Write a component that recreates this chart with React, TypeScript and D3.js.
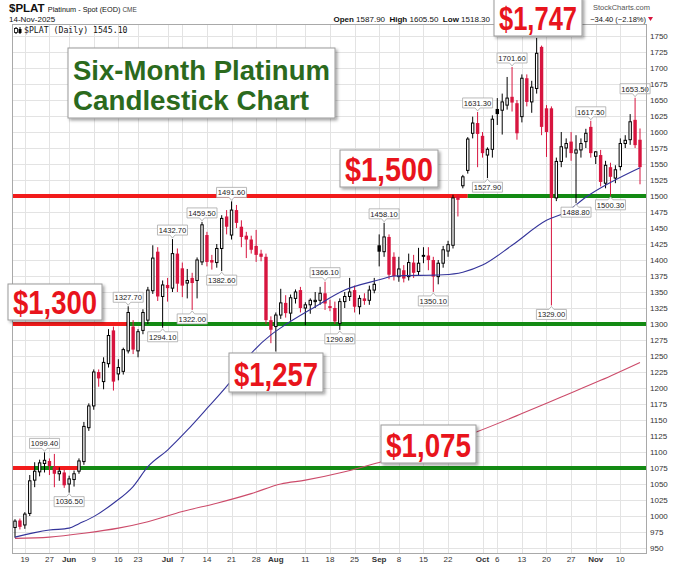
import * as d3 from "d3";
import { useEffect, useRef } from "react";

// trading days, 15-May-2025 .. 14-Nov-2025
const dates = [
  "2025-05-15", "2025-05-16", "2025-05-19", "2025-05-20", "2025-05-21", "2025-05-22", "2025-05-23", "2025-05-27", "2025-05-28", "2025-05-29", "2025-05-30",
  "2025-06-02", "2025-06-03", "2025-06-04", "2025-06-05", "2025-06-06", "2025-06-09", "2025-06-10", "2025-06-11", "2025-06-12", "2025-06-13",
  "2025-06-16", "2025-06-17", "2025-06-18", "2025-06-20", "2025-06-23", "2025-06-24", "2025-06-25", "2025-06-26", "2025-06-27", "2025-06-30",
  "2025-07-01", "2025-07-02", "2025-07-03", "2025-07-07", "2025-07-08", "2025-07-09", "2025-07-10", "2025-07-11", "2025-07-14", "2025-07-15",
  "2025-07-16", "2025-07-17", "2025-07-18", "2025-07-21", "2025-07-22", "2025-07-23", "2025-07-24", "2025-07-25", "2025-07-28", "2025-07-29",
  "2025-07-30", "2025-07-31", "2025-08-01", "2025-08-04", "2025-08-05", "2025-08-06", "2025-08-07", "2025-08-08", "2025-08-11", "2025-08-12",
  "2025-08-13", "2025-08-14", "2025-08-15", "2025-08-18", "2025-08-19", "2025-08-20", "2025-08-21", "2025-08-22", "2025-08-25", "2025-08-26",
  "2025-08-27", "2025-08-28", "2025-08-29", "2025-09-02", "2025-09-03", "2025-09-04", "2025-09-05", "2025-09-08", "2025-09-09", "2025-09-10",
  "2025-09-11", "2025-09-12", "2025-09-15", "2025-09-16", "2025-09-17", "2025-09-18", "2025-09-19", "2025-09-22", "2025-09-23", "2025-09-24",
  "2025-09-25", "2025-09-26", "2025-09-29", "2025-09-30", "2025-10-01", "2025-10-02", "2025-10-03", "2025-10-06", "2025-10-07", "2025-10-08",
  "2025-10-09", "2025-10-10", "2025-10-13", "2025-10-14", "2025-10-15", "2025-10-16", "2025-10-17", "2025-10-20", "2025-10-21", "2025-10-22",
  "2025-10-23", "2025-10-24", "2025-10-27", "2025-10-28", "2025-10-29", "2025-10-30", "2025-10-31", "2025-11-03", "2025-11-04", "2025-11-05",
  "2025-11-06", "2025-11-07", "2025-11-10", "2025-11-11", "2025-11-12", "2025-11-13", "2025-11-14",
];

const opens = [
  982, 993, 986, 1004, 1056, 1069, 1082, 1086, 1077, 1066,
  1068, 1050, 1057, 1070, 1085, 1138, 1172, 1225, 1210, 1238,
  1290, 1222, 1226, 1258, 1296, 1258, 1290, 1306, 1352, 1413,
  1343, 1361, 1356, 1410, 1387, 1364, 1372, 1368, 1397, 1439,
  1400, 1396, 1418, 1468, 1439, 1478, 1452, 1438, 1432, 1422,
  1410, 1405, 1306, 1296, 1314, 1333, 1317, 1340, 1353, 1325,
  1330, 1335, 1337, 1348, 1328, 1325, 1301, 1335, 1343, 1353,
  1327, 1340, 1337, 1353, 1423, 1413, 1436, 1405, 1374, 1384,
  1374, 1396, 1382, 1408, 1407, 1400, 1374, 1395, 1414, 1423,
  1499, 1516, 1540, 1598, 1614, 1594, 1564, 1573, 1636, 1634,
  1642, 1655, 1645, 1624, 1684, 1647, 1668, 1733, 1637, 1637,
  1497, 1554, 1575, 1585, 1567, 1572, 1585, 1608, 1562, 1564,
  1520, 1545, 1528, 1546, 1582, 1588, 1619, 1587.9,
];

const highs = [
  995, 996, 1006, 1064, 1084, 1088, 1099.4, 1090, 1097, 1076,
  1073, 1063, 1071, 1090, 1147, 1176, 1229, 1229, 1248, 1292,
  1296, 1245, 1263, 1327.7, 1306, 1292, 1323, 1358, 1423, 1420,
  1368, 1372, 1432.7, 1418, 1396, 1386, 1380, 1404, 1459.5, 1444,
  1408, 1425, 1470, 1478, 1491.6, 1486, 1462, 1444, 1438, 1447,
  1416, 1410, 1312, 1318, 1355, 1345, 1346, 1354, 1358, 1334,
  1340, 1350, 1358, 1366.1, 1338, 1335, 1340, 1350, 1372, 1360,
  1345, 1348, 1360, 1372, 1440, 1458.1, 1440, 1412, 1405, 1392,
  1410, 1408, 1419, 1420, 1420, 1405, 1400, 1422, 1430, 1502,
  1503, 1533, 1592, 1624, 1631.3, 1600, 1576, 1626, 1653, 1660,
  1686, 1701.6, 1650, 1690, 1690, 1680, 1747, 1735, 1642, 1640,
  1560, 1600, 1590, 1600, 1595, 1590, 1605, 1617.5, 1570, 1572,
  1555, 1552, 1548, 1590, 1595, 1628, 1653.5, 1605.5,
];

const lows = [
  966, 979, 980, 1000, 1045, 1062, 1068, 1064, 1045, 1055,
  1044, 1036.5, 1046, 1066, 1080, 1133, 1166, 1202, 1198, 1232,
  1196, 1212, 1221, 1254, 1253, 1248, 1284, 1300, 1347, 1336,
  1294.1, 1335, 1350, 1350, 1342, 1340, 1322, 1340, 1392, 1390,
  1385, 1388, 1382.6, 1440, 1432, 1450, 1420, 1403, 1410, 1397,
  1398, 1300, 1270, 1257, 1308, 1310, 1305, 1332, 1318, 1298,
  1316, 1325, 1330, 1322, 1320, 1300, 1290.8, 1325, 1336, 1318,
  1315, 1330, 1330, 1348, 1390, 1405, 1370, 1368, 1366, 1365,
  1368, 1372, 1376, 1395, 1384, 1350.1, 1362, 1388, 1405, 1418,
  1468, 1512, 1535, 1590, 1545, 1560, 1527.9, 1560, 1611, 1596,
  1635, 1632, 1588, 1615, 1640, 1630, 1660, 1595, 1561, 1329,
  1492, 1545, 1560, 1555, 1488.8, 1560, 1575, 1560, 1550, 1515,
  1512, 1500.3, 1520, 1540, 1575, 1580, 1575, 1518.3,
];

const closes = [
  992, 983, 1003, 1055, 1070, 1083, 1087, 1078, 1066, 1070,
  1048, 1058, 1066, 1086, 1140, 1172, 1225, 1215, 1240, 1282,
  1210, 1232, 1260, 1318, 1260, 1288, 1318, 1353, 1403, 1343,
  1361, 1356, 1410, 1363, 1360, 1368, 1364, 1400, 1455, 1397,
  1396, 1418, 1465, 1452, 1478, 1458, 1436, 1432, 1416, 1408,
  1405, 1306, 1291, 1314, 1333, 1317, 1341, 1350, 1325, 1330,
  1337, 1337, 1348, 1332, 1325, 1304, 1335, 1343, 1350, 1327,
  1340, 1336, 1353, 1362, 1413, 1436, 1377, 1375, 1386, 1371,
  1396, 1380, 1395, 1405, 1400, 1374, 1395, 1416, 1424, 1497,
  1494, 1530, 1589, 1614, 1597, 1567, 1573, 1620, 1628, 1647,
  1653, 1646, 1598, 1684, 1647, 1670, 1723, 1608, 1600, 1497,
  1554, 1577, 1582, 1567, 1572, 1582, 1598, 1567, 1569, 1522,
  1548, 1530, 1541, 1582, 1587, 1616, 1579.5, 1545.1,
];

// moving averages
const ma50Dates = [
  "2025-05-15", "2025-05-21", "2025-05-27", "2025-06-02", "2025-06-04", "2025-06-09", "2025-06-13",
  "2025-06-20", "2025-06-25", "2025-07-01", "2025-07-08", "2025-07-14", "2025-07-21", "2025-07-25",
  "2025-07-31", "2025-08-04", "2025-08-13", "2025-08-21", "2025-09-02", "2025-09-05", "2025-09-19",
  "2025-09-25", "2025-10-01", "2025-10-09", "2025-10-20", "2025-10-24", "2025-10-30", "2025-11-14",
];
const ma50Values = [
  967, 974, 978, 981, 988, 999, 1020, 1046, 1077, 1103, 1134, 1168, 1212, 1254,
  1283, 1294, 1327, 1353, 1369, 1375, 1377, 1381, 1392, 1423, 1462, 1475, 1498, 1544,
];
const ma200Dates = [
  "2025-05-15", "2025-05-27", "2025-06-05", "2025-06-16", "2025-06-25", "2025-07-07", "2025-07-16",
  "2025-07-25", "2025-08-04", "2025-08-11", "2025-08-21", "2025-09-03", "2025-09-18", "2025-09-30",
  "2025-10-13", "2025-10-23", "2025-11-04", "2025-11-14",
];
const ma200Values = [
  965, 967, 973, 981, 991, 1007, 1020, 1035, 1050, 1056, 1069, 1086, 1110, 1132, 1160, 1186, 1212, 1240,
];

const tickDates = [
  "2025-05-19", "2025-05-27", "2025-06-02", "2025-06-09", "2025-06-16", "2025-06-23", "2025-07-01",
  "2025-07-07", "2025-07-14", "2025-07-21", "2025-07-28", "2025-08-01", "2025-08-11", "2025-08-18",
  "2025-08-25", "2025-09-02", "2025-09-08", "2025-09-15", "2025-09-22", "2025-10-01", "2025-10-06",
  "2025-10-13", "2025-10-20", "2025-10-27", "2025-11-03", "2025-11-10",
];
const tickLabels = [
  "19", "27", "Jun", "9", "16", "23", "Jul", "7", "14", "21", "28", "Aug", "11", "18",
  "25", "Sep", "8", "15", "22", "Oct", "6", "13", "20", "27", "Nov", "10",
];
const priceTicks = [
  950, 975, 1000, 1025, 1050, 1075, 1100, 1125, 1150, 1175, 1200, 1225, 1250, 1275, 1300, 1325, 1350,
  1375, 1400, 1425, 1450, 1475, 1500, 1525, 1550, 1575, 1600, 1625, 1650, 1675, 1700, 1725, 1750,
];

// swing high / low callouts
const calloutDates = [
  "2025-05-23", "2025-06-02", "2025-06-18", "2025-06-30", "2025-07-02", "2025-07-09", "2025-07-11",
  "2025-07-17", "2025-07-21", "2025-08-15", "2025-08-20", "2025-09-03", "2025-09-17", "2025-09-30",
  "2025-10-02", "2025-10-09", "2025-10-21", "2025-10-28", "2025-10-31", "2025-11-06", "2025-11-13",
];
const calloutKinds = [
  "high", "low", "high", "low", "high", "low", "high", "low", "high", "high", "low", "high", "low",
  "high", "low", "high", "low", "low", "high", "low", "high",
];

// support / resistance lines: [level, colour, from date (null = left edge), to date (null = right edge)]
const levelSegments: [number, string, string | null, string | null][] = [
  [1500, "red", null, "2025-09-26"],
  [1500, "green", "2025-09-26", null],
  [1300, "red", null, "2025-06-18"],
  [1300, "green", "2025-06-18", null],
  [1075, "red", null, "2025-05-21"],
  [1075, "green", "2025-05-21", "2025-05-28"],
  [1075, "red", "2025-05-28", "2025-06-04"],
  [1075, "green", "2025-06-04", null],
];

const noteTexts = ["$1,747", "$1,500", "$1,300", "$1,257", "$1,075"];

const W = 680;
const H = 565;
const plot = { left: 12, right: 646, top: 24, bottom: 553 };
const UP = "#000000";
const DOWN = "#d7153f";
const LINE_RED = "#f21b1b";
const LINE_GREEN = "#138a13";
const SANS = "Arial, 'Liberation Sans', sans-serif";

const PlatinumChart = () => {
  const ref = useRef<SVGSVGElement | null>(null);

  useEffect(() => {
    if (!ref.current) return;
    const svg = d3.select(ref.current);
    svg.selectAll("*").remove();

    const x = d3.scalePoint<string>().domain(dates).range([15, 640]);
    const y = d3.scaleLinear().domain([950, 1750]).range([548, 36]);
    const px = (d: string) => x(d) ?? 0;

    const defs = svg.append("defs");
    defs
      .append("filter")
      .attr("id", "shadow")
      .attr("x", "-10%")
      .attr("y", "-10%")
      .attr("width", "130%")
      .attr("height", "140%")
      .append("feDropShadow")
      .attr("dx", 2)
      .attr("dy", 2)
      .attr("stdDeviation", 1.5)
      .attr("flood-color", "#000")
      .attr("flood-opacity", 0.35);

    svg.append("rect").attr("width", W).attr("height", H).attr("fill", "#fff");

    // grid
    const grid = svg.append("g").attr("stroke", "#e3e3e3").attr("stroke-width", 1);
    grid
      .selectAll("line.h")
      .data(priceTicks)
      .join("line")
      .attr("x1", plot.left)
      .attr("x2", plot.right)
      .attr("y1", (d) => Math.round(y(d)) + 0.5)
      .attr("y2", (d) => Math.round(y(d)) + 0.5);
    grid
      .selectAll("line.v")
      .data(tickDates)
      .join("line")
      .attr("x1", (d) => Math.round(px(d)) + 0.5)
      .attr("x2", (d) => Math.round(px(d)) + 0.5)
      .attr("y1", plot.top)
      .attr("y2", plot.bottom);

    // support / resistance
    svg
      .append("g")
      .selectAll("line")
      .data(levelSegments)
      .join("line")
      .attr("x1", (d) => (d[2] ? px(d[2]) : plot.left))
      .attr("x2", (d) => (d[3] ? px(d[3]) : plot.right))
      .attr("y1", (d) => y(d[0]))
      .attr("y2", (d) => y(d[0]))
      .attr("stroke", (d) => (d[1] === "red" ? LINE_RED : LINE_GREEN))
      .attr("stroke-width", 4);

    // candles
    const candles = dates.map((date, i) => ({
      date,
      open: opens[i],
      high: highs[i],
      low: lows[i],
      close: closes[i],
      prev: i > 0 ? closes[i - 1] : opens[i],
    }));
    const bw = 3.4;
    svg
      .append("g")
      .selectAll("g")
      .data(candles)
      .join("g")
      .attr("transform", (d) => `translate(${px(d.date)},0)`)
      .each(function (d) {
        const g = d3.select(this);
        const color = d.close < d.prev ? DOWN : UP;
        const hollow = d.close >= d.open;
        const top = y(Math.max(d.open, d.close));
        const bot = y(Math.min(d.open, d.close));
        g.append("line")
          .attr("x1", 0)
          .attr("x2", 0)
          .attr("y1", y(d.high))
          .attr("y2", y(d.low))
          .attr("stroke", color)
          .attr("stroke-width", 1);
        if (hollow) {
          g.append("rect")
            .attr("x", -bw / 2 + 0.5)
            .attr("width", bw - 1)
            .attr("y", top)
            .attr("height", Math.max(1, bot - top))
            .attr("fill", "#fff")
            .attr("stroke", color)
            .attr("stroke-width", 1);
        } else {
          g.append("rect")
            .attr("x", -bw / 2)
            .attr("width", bw)
            .attr("y", top)
            .attr("height", Math.max(1, bot - top))
            .attr("fill", color);
        }
      });

    // moving averages
    const line = d3
      .line<[string, number]>()
      .x((d) => px(d[0]))
      .y((d) => y(d[1]))
      .curve(d3.curveMonotoneX);
    svg
      .append("path")
      .attr("d", line(ma200Dates.map((d, i) => [d, ma200Values[i]] as [string, number])))
      .attr("fill", "none")
      .attr("stroke", "#cc4b6a")
      .attr("stroke-width", 1.1);
    svg
      .append("path")
      .attr("d", line(ma50Dates.map((d, i) => [d, ma50Values[i]] as [string, number])))
      .attr("fill", "none")
      .attr("stroke", "#34349a")
      .attr("stroke-width", 1.1);

    // callouts
    const fmt = d3.format(".2f");
    const callouts = svg.append("g").attr("font-family", SANS).attr("font-size", 7.6);
    calloutDates.forEach((date, k) => {
      const i = dates.indexOf(date);
      const isHigh = calloutKinds[k] === "high";
      const v = isHigh ? highs[i] : lows[i];
      const cx = px(date);
      const vy = y(v);
      const bwid = 30;
      const bh = 10;
      const by = isHigh ? vy - 4 - bh : vy + 4;
      const g = callouts.append("g");
      g.append("path")
        .attr(
          "d",
          isHigh
            ? `M${cx - bwid / 2},${by} h${bwid} v${bh} h${-bwid / 2 + 2.5} l-2.5,3 l-2.5,-3 h${-bwid / 2 + 2.5} Z`
            : `M${cx - bwid / 2},${by} h${bwid / 2 - 2.5} l2.5,-3 l2.5,3 h${bwid / 2 - 2.5} v${bh} h${-bwid} Z`
        )
        .attr("fill", "#fff")
        .attr("stroke", "#a8a8a8")
        .attr("stroke-width", 0.8);
      g.append("text")
        .attr("x", cx)
        .attr("y", by + 7.8)
        .attr("text-anchor", "middle")
        .attr("fill", "#222")
        .text(fmt(v));
    });

    // plot frame
    svg
      .append("rect")
      .attr("x", plot.left + 0.5)
      .attr("y", plot.top + 0.5)
      .attr("width", plot.right - plot.left)
      .attr("height", plot.bottom - plot.top)
      .attr("fill", "none")
      .attr("stroke", "#a9a9a9");

    // price axis
    svg
      .append("g")
      .attr("font-family", SANS)
      .attr("font-size", 8)
      .attr("fill", "#333")
      .selectAll("text")
      .data(priceTicks)
      .join("text")
      .attr("x", plot.right + 4)
      .attr("y", (d) => y(d) + 3)
      .text((d) => String(d));

    // date axis
    const months = new Set(["Jun", "Jul", "Aug", "Sep", "Oct", "Nov"]);
    svg
      .append("g")
      .attr("font-family", SANS)
      .attr("font-size", 8)
      .attr("fill", "#333")
      .selectAll("text")
      .data(tickDates)
      .join("text")
      .attr("x", (d) => px(d))
      .attr("y", 562)
      .attr("text-anchor", "middle")
      .attr("font-weight", (_d, i) => (months.has(tickLabels[i]) ? "bold" : "normal"))
      .text((_d, i) => tickLabels[i]);

    // legend inside plot
    const lg = svg.append("g");
    lg.append("line").attr("x1", 16).attr("x2", 16).attr("y1", 27).attr("y2", 34).attr("stroke", "#000");
    lg.append("rect").attr("x", 14.5).attr("y", 28.5).attr("width", 3).attr("height", 4).attr("fill", "#fff").attr("stroke", "#000").attr("stroke-width", 0.8);
    lg.append("line").attr("x1", 20).attr("x2", 20).attr("y1", 27).attr("y2", 34).attr("stroke", "#000");
    lg.append("rect").attr("x", 18.5).attr("y", 29).attr("width", 3).attr("height", 4).attr("fill", "#000");
    lg.append("text")
      .attr("x", 24)
      .attr("y", 33)
      .attr("font-family", "'DejaVu Sans Mono', monospace")
      .attr("font-size", 8.2)
      .attr("fill", "#111")
      .text(`$PLAT (Daily) ${fmt(closes[closes.length - 1])}`);

    // header
    const last = candles[candles.length - 1];
    const chg = last.close - last.prev;
    const hd = svg.append("g").attr("font-family", SANS).attr("fill", "#111");
    const t1 = hd.append("text").attr("x", 9).attr("y", 12);
    t1.append("tspan").attr("font-size", 11.5).attr("font-weight", "bold").text("$PLAT ");
    t1.append("tspan").attr("font-size", 7.3).text("Platinum - Spot (EOD) ");
    t1.append("tspan").attr("font-size", 6.5).attr("fill", "#444").text("CME");
    hd.append("text").attr("x", 9).attr("y", 22).attr("font-size", 8).text("14-Nov-2025");
    hd.append("text").attr("x", 650).attr("y", 10).attr("font-size", 7.5).attr("fill", "#555").attr("text-anchor", "end").text("StockCharts.com");
    const q = hd.append("text").attr("x", 490).attr("y", 22).attr("font-size", 8).attr("text-anchor", "end");
    const parts: [string, boolean][] = [
      ["Open ", true], [fmt(last.open) + "  ", false],
      ["High ", true], [fmt(last.high) + "  ", false],
      ["Low ", true], [fmt(last.low), false],
    ];
    parts.forEach(([t, b]) => {
      q.append("tspan").attr("font-weight", b ? "bold" : "normal").attr("xml:space", "preserve").text(t);
    });
    hd.append("text")
      .attr("x", 646)
      .attr("y", 22)
      .attr("font-size", 7.5)
      .attr("text-anchor", "end")
      .text(`${fmt(chg)} (${fmt((chg / last.prev) * 100)}%)`);
    hd.append("path").attr("d", "M648,17 l5,0 l-2.5,4 Z").attr("fill", DOWN);

    // title box
    const tb = svg.append("g");
    tb.append("rect")
      .attr("x", 68)
      .attr("y", 48)
      .attr("width", 267)
      .attr("height", 70)
      .attr("fill", "#fff")
      .attr("stroke", "#9a9a9a")
      .attr("filter", "url(#shadow)");
    ["Six-Month Platinum", "Candlestick Chart"].forEach((t, i) => {
      tb.append("text")
        .attr("x", 73)
        .attr("y", 80 + i * 30)
        .attr("font-family", "'Liberation Sans', Arial, sans-serif")
        .attr("font-weight", "bold")
        .attr("font-size", 27)
        .attr("fill", "#2b6a1d")
        .attr("textLength", i === 0 ? 257 : 236)
        .attr("lengthAdjust", "spacingAndGlyphs")
        .text(t);
    });

    // price notes
    const noteBoxes = [
      { x: 494, y: -3, w: 88, h: 39 },
      { x: 340, y: 150, w: 98, h: 37 },
      { x: 8, y: 284, w: 94, h: 36 },
      { x: 229, y: 353, w: 94, h: 39 },
      { x: 381, y: 425, w: 95, h: 38 },
    ];
    noteTexts.forEach((t, i) => {
      const b = noteBoxes[i];
      const g = svg.append("g");
      g.append("rect")
        .attr("x", b.x)
        .attr("y", b.y)
        .attr("width", b.w)
        .attr("height", b.h)
        .attr("fill", "#fff")
        .attr("stroke", "#9a9a9a")
        .attr("filter", "url(#shadow)");
      g.append("text")
        .attr("x", b.x + 5)
        .attr("y", b.y + b.h - 6)
        .attr("font-family", "'Liberation Sans Narrow', 'Arial Narrow', Arial, sans-serif")
        .attr("font-weight", "bold")
        .attr("font-size", 34)
        .attr("fill", "#e8141c")
        .attr("textLength", b.w - 10)
        .attr("lengthAdjust", "spacingAndGlyphs")
        .text(t);
    });
  }, []);

  return <svg ref={ref} width={W} height={H} style={{ display: "block" }} />;
};

export default function App() {
  return (
    <div style={{ position: "absolute", left: 0, top: 0, width: W, height: H }}>
      <PlatinumChart />
    </div>
  );
}
